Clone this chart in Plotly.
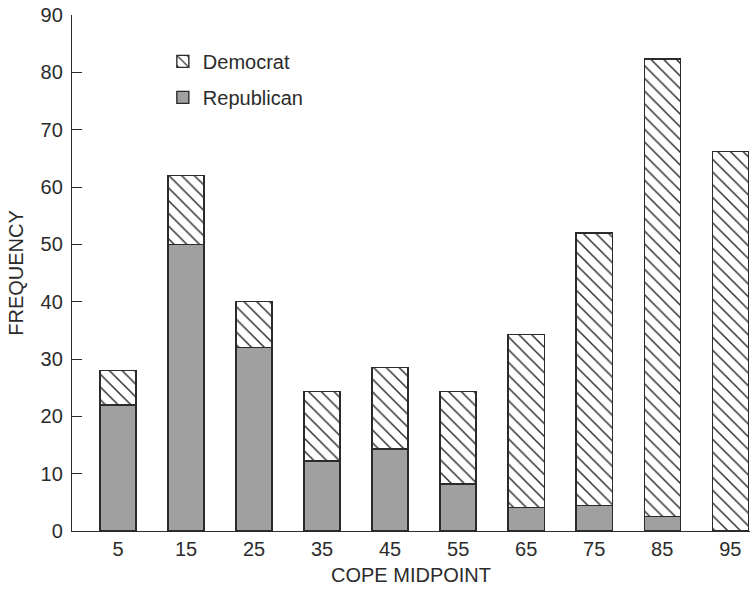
import plotly.graph_objects as go

midpoints = [5, 15, 25, 35, 45, 55, 65, 75, 85, 95]
republican = [22, 50, 32, 12.2, 14.3, 8.2, 4.1, 4.5, 2.5, 0]
democrat = [6, 12, 8, 12.1, 14.2, 16.1, 30.2, 47.5, 79.8, 66.2]
y_ticks = [0, 10, 20, 30, 40, 50, 60, 70, 80, 90]

INK = "#2b2b2b"
FONT = "Liberation Sans, Arial, Helvetica, sans-serif"

fig = go.Figure()
fig.add_trace(go.Bar(
    x=midpoints, y=republican, name="Republican", legendgroup="r", legendrank=2,
    marker=dict(color="#a0a0a0", line=dict(color=INK, width=1.4)),
))
fig.add_trace(go.Bar(
    x=midpoints, y=democrat, name="Democrat", legendgroup="d", legendrank=1,
    marker=dict(color="white", line=dict(color=INK, width=1.4),
                pattern=dict(shape="\\", size=9, solidity=0.16,
                             fgcolor=INK, bgcolor="white", fillmode="replace")),
))

fig.update_layout(
    width=756, height=590,
    barmode="stack", bargap=0.47,
    plot_bgcolor="white", paper_bgcolor="white",
    margin=dict(l=72, r=6, t=15, b=59, autoexpand=False),
    font=dict(family=FONT, size=20, color=INK),
    showlegend=True,
    legend=dict(x=0.134, y=0.948, xanchor="left", yanchor="top",
                traceorder="grouped", tracegroupgap=7,
                font=dict(size=20), bgcolor="rgba(0,0,0,0)"),
    xaxis=dict(range=[-1.76, 97.9], tickvals=midpoints, ticktext=[str(m) for m in midpoints],
               showline=True, linecolor=INK, linewidth=1.4, ticks="",
               showgrid=False, zeroline=False,
               title=dict(text="COPE MIDPOINT", font=dict(size=20), standoff=8)),
    yaxis=dict(range=[0, 90], tickvals=y_ticks, showline=True, linecolor=INK, linewidth=1.4,
               ticks="inside", ticklen=10, tickwidth=1.4, tickcolor=INK,
               ticklabelstandoff=4,
               showgrid=False, zeroline=False,
               title=dict(text="FREQUENCY", font=dict(size=20), standoff=11)),
)

# remove the browser's default 8px body margin so the figure fills the window
fig.write_html("out.html", config={"displayModeBar": False},
               post_script="document.body.style.margin='0';")
